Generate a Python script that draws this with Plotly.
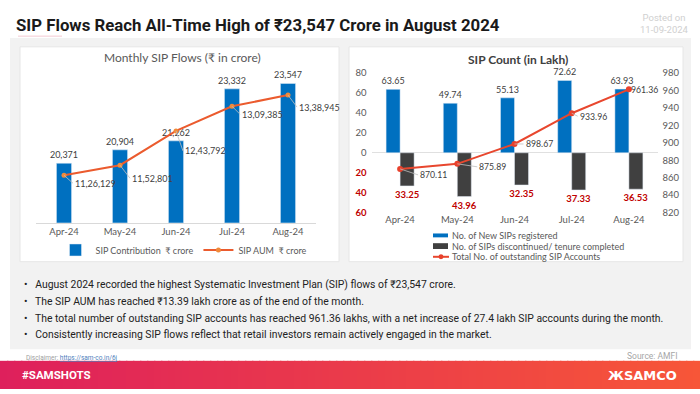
import plotly.graph_objects as go

# ---------------- data ----------------
months = ["Apr-24", "May-24", "Jun-24", "Jul-24", "Aug-24"]
sip_contribution = [20371, 20904, 21262, 23332, 23547]          # ₹ crore
sip_aum = [1126129, 1152801, 1243792, 1309385, 1338945]         # ₹ crore
new_sips = [63.65, 49.74, 55.13, 72.62, 63.93]                   # lakh
discontinued = [33.25, 43.96, 32.35, 37.33, 36.53]               # lakh
outstanding = [870.11, 875.89, 898.67, 933.96, 961.36]           # lakh
left_ticks = [-60, -40, -20, 0, 20, 40, 60, 80]
right_ticks = [820, 840, 860, 880, 900, 920, 940, 960, 980]

bullets = [
    "August 2024 recorded the highest Systematic Investment Plan (SIP) flows of ₹23,547 crore.",
    "The SIP AUM has reached ₹13.39 lakh crore as of the end of the month.",
    "The total number of outstanding SIP accounts has reached 961.36 lakhs, with a net increase of 27.4 lakh SIP accounts during the month.",
    "Consistently increasing SIP flows reflect that retail investors remain actively engaged in the market.",
]

W, H = 700, 394
CH = "Lato, 'Open Sans', sans-serif"
NARROW = "Roboto, 'Liberation Sans', sans-serif"
GREY = "#595959"
BLUE = "#0070C0"
DARK = "#404040"
ORANGE = "#EB5B2E"
RED_LINE = "#E8472E"


def px(x):
    return x / W


def py(y):
    return 1 - y / H


def inr(n):
    s = str(int(n))
    last3, rest = s[-3:], s[:-3]
    groups = []
    while len(rest) > 2:
        groups.insert(0, rest[-2:])
        rest = rest[:-2]
    if rest:
        groups.insert(0, rest)
    return ",".join(groups + [last3])


fig = go.Figure()

# ---------- left chart ----------
fig.add_trace(go.Bar(
    x=months, y=sip_contribution, name="SIP Contribution  ₹ crore",
    marker_color=BLUE, width=0.27,
    text=[f"{v:,}" for v in sip_contribution], textposition="outside",
    constraintext="none",
    textfont=dict(size=9, color=DARK, family=CH), cliponaxis=False,
    xaxis="x", yaxis="y", legend="legend"))
fig.add_trace(go.Scatter(
    x=months, y=sip_aum, name="SIP AUM  ₹ crore", mode="lines+markers",
    line=dict(color=ORANGE, width=2), marker=dict(size=5, color="#F08A3A"),
    xaxis="x", yaxis="y2", legend="legend"))

# ---------- right chart ----------
fig.add_trace(go.Bar(
    x=months, y=new_sips, name="No. of New SIPs registered",
    marker_color=BLUE, width=0.245, offset=-0.245,
    text=[f"{v:.2f}" for v in new_sips], textposition="outside",
    constraintext="none",
    textfont=dict(size=9, color=DARK, family=CH), cliponaxis=False,
    xaxis="x2", yaxis="y3", showlegend=False))
fig.add_trace(go.Bar(
    x=months, y=[-v for v in discontinued],
    name="No. of SIPs discontinued/ tenure completed",
    marker_color=DARK, width=0.245, offset=0,
    text=[f"<b>{v:.2f}</b>" for v in discontinued], textposition="outside",
    constraintext="none",
    textfont=dict(size=9.5, color="#C00000", family=CH), cliponaxis=False,
    xaxis="x2", yaxis="y3", showlegend=False))
fig.add_trace(go.Scatter(
    x=months, y=outstanding, name="Total No. of outstanding SIP Accounts",
    mode="lines+markers", line=dict(color=RED_LINE, width=2),
    marker=dict(size=6, color="#E8412C"),
    xaxis="x2", yaxis="y4", showlegend=False))

annotations = []
# line labels, left chart
left_off = [(9, 8), (10, 13), (7, 20), (8, 8), (9, 12)]
for m, v, (dx, dy) in zip(months, sip_aum, left_off):
    annotations.append(dict(x=m, y=v, xref="x", yref="y2", text=inr(v),
                            showarrow=True, arrowhead=0, arrowwidth=0.8,
                            arrowcolor="#BFBFBF", ax=dx, ay=dy,
                            xanchor="left", yanchor="middle",
                            font=dict(size=9, color=DARK, family=CH)))
# line labels, right chart
right_off = [(18, 6), (20, 3), (9, 0), (6, 3), (0, 0)]
for m, v, (dx, dy) in zip(months, outstanding, right_off):
    annotations.append(dict(x=m, y=v, xref="x2", yref="y4", text=f"{v:.2f}",
                            showarrow=True, arrowhead=0, arrowwidth=0.8,
                            arrowcolor="#BFBFBF", ax=dx, ay=dy,
                            xanchor="left", yanchor="middle",
                            font=dict(size=8.7, color=DARK, family=CH)))

# chart titles
annotations.append(dict(x=px(182), y=py(53), xref="paper", yref="paper",
                        xanchor="center", yanchor="middle",
                        text="Monthly SIP Flows (₹ in crore)", showarrow=False,
                        font=dict(size=12, color=GREY, family=CH)))
annotations.append(dict(x=px(518), y=py(55), xref="paper", yref="paper",
                        xanchor="center", yanchor="middle",
                        text="<b>SIP Count (in Lakh)</b>", showarrow=False,
                        font=dict(size=12, color=DARK, family=CH)))

# manual legend for right chart
leg_names = ["No. of New SIPs registered",
             "No. of SIPs discontinued/ tenure completed",
             "Total No. of outstanding SIP Accounts"]
shapes = []
for name, yy in zip(leg_names, [236, 247, 258]):
    annotations.append(dict(x=px(450), y=py(yy), xref="paper", yref="paper",
                            xanchor="left", yanchor="middle", showarrow=False,
                            text=name, font=dict(size=9, color=GREY, family=CH)))

# header
annotations.append(dict(x=px(14), y=py(20), xref="paper", yref="paper",
                        xanchor="left", yanchor="middle", showarrow=False,
                        text="<b>SIP Flows Reach All-Time High of ₹23,547 Crore in August 2024</b>",
                        font=dict(size=16.8, color="#1A1A1A", family=NARROW)))
annotations.append(dict(x=px(691), y=py(18), xref="paper", yref="paper",
                        xanchor="right", yanchor="middle", showarrow=False,
                        align="center",
                        text="Posted on<br>11-09-2024",
                        font=dict(size=9.5, color="#D0D0D0", family=NARROW)))

# bullets
for b, yy in zip(bullets, [286, 304, 321, 338]):
    annotations.append(dict(x=px(22), y=py(yy), xref="paper", yref="paper",
                            xanchor="left", yanchor="middle", showarrow=False,
                            text="•   " + b,
                            font=dict(size=10.4, color="#222222", family=NARROW)))

annotations.append(dict(x=px(24), y=py(362), xref="paper", yref="paper",
                        xanchor="left", yanchor="middle", showarrow=False,
                        text="Disclaimer: <span style='color:#4F81BD'><u>https://sam-co.in/6j</u></span>",
                        font=dict(size=6.5, color="#A0A0A0", family=NARROW)))
annotations.append(dict(x=px(679), y=py(360), xref="paper", yref="paper",
                        xanchor="right", yanchor="middle", showarrow=False,
                        text="Source: AMFI",
                        font=dict(size=8.5, color="#A6A6A6", family=NARROW)))
annotations.append(dict(x=px(20), y=py(380), xref="paper", yref="paper",
                        xanchor="left", yanchor="middle", showarrow=False,
                        text="<b>#SAMSHOTS</b>",
                        font=dict(size=11.5, color="white", family=NARROW)))
annotations.append(dict(x=px(679), y=py(380), xref="paper", yref="paper",
                        xanchor="right", yanchor="middle", showarrow=False,
                        text="<b>ЖSAMCO</b>",
                        font=dict(size=13, color="white", family="'DejaVu Sans', sans-serif")))

# ---------- background shapes ----------
shapes.append(dict(type="rect", xref="paper", yref="paper", layer="below",
                   x0=px(10), x1=px(691), y0=py(353), y1=py(33),
                   fillcolor="#F2F2F2", line_width=0))
for x0, x1 in [(20, 339), (349, 683)]:
    shapes.append(dict(type="rect", xref="paper", yref="paper", layer="below",
                       x0=px(x0), x1=px(x1), y0=py(263), y1=py(42),
                       fillcolor="white", line=dict(color="#E6E6E6", width=1)))
shapes.append(dict(type="line", xref="paper", yref="paper", layer="below",
                   x0=px(18), x1=px(62), y0=py(31), y1=py(31),
                   line=dict(color="#F3C9D2", width=1)))
# legend keys (right chart)
shapes.append(dict(type="rect", xref="paper", yref="paper",
                   x0=px(433), x1=px(448), y0=py(238), y1=py(234),
                   fillcolor=BLUE, line_width=0))
shapes.append(dict(type="rect", xref="paper", yref="paper",
                   x0=px(433), x1=px(448), y0=py(250), y1=py(244),
                   fillcolor=DARK, line_width=0))
shapes.append(dict(type="line", xref="paper", yref="paper",
                   x0=px(433), x1=px(449), y0=py(258), y1=py(258),
                   line=dict(color=RED_LINE, width=2)))
shapes.append(dict(type="circle", xref="paper", yref="paper",
                   x0=px(438.5), x1=px(443.5), y0=py(260.5), y1=py(255.5),
                   fillcolor="#E8412C", line_width=0))
# gradient banner
c0, c1 = (222, 32, 92), (247, 86, 56)
n = 100
for i in range(n):
    t = i / (n - 1)
    col = "rgb(%d,%d,%d)" % tuple(round(a + (b - a) * t) for a, b in zip(c0, c1))
    shapes.append(dict(type="rect", xref="paper", yref="paper", layer="below",
                       x0=i / n, x1=(i + 1) / n + 0.002, y0=0, y1=py(365),
                       fillcolor=col, line_width=0))

tick_font = dict(size=9.5, color=GREY, family=CH)
left_ticktext = [f"<span style='color:#C00000'><b>{abs(v)}</b></span>" if v < 0 else str(v)
                 for v in left_ticks]

fig.update_layout(
    width=W, height=H, margin=dict(l=0, r=0, t=0, b=0),
    paper_bgcolor="white", plot_bgcolor="rgba(0,0,0,0)",
    barmode="overlay", showlegend=True,
    xaxis=dict(domain=[px(36), px(316)], anchor="y", range=[-0.5, 4.5],
               showgrid=False, showline=True, linecolor="#D9D9D9", linewidth=1,
               ticks="", tickfont=tick_font),
    yaxis=dict(domain=[py(223), py(68)], range=[18000, 24000], visible=False),
    yaxis2=dict(overlaying="y", anchor="x", range=[1000000, 1400000], visible=False),
    xaxis2=dict(domain=[px(371.5), px(657.5)], anchor="y3", range=[-0.5, 4.5],
                showgrid=False, showline=False, ticks="", tickfont=tick_font),
    yaxis3=dict(domain=[py(212.5), py(69)], range=[-60, 80], anchor="x2",
                tickvals=left_ticks, ticktext=left_ticktext, showgrid=False,
                zeroline=True, zerolinecolor="#E0E0E0", zerolinewidth=1,
                tickfont=tick_font, ticklabelstandoff=4),
    yaxis4=dict(overlaying="y3", anchor="x2", side="right", range=[820, 980],
                tickvals=right_ticks, showgrid=False, zeroline=False,
                tickfont=tick_font, ticklabelstandoff=4),
    legend=dict(orientation="h", x=px(184), xanchor="center", y=py(251),
                yanchor="middle", font=dict(size=9, color=GREY, family=CH),
                bgcolor="rgba(0,0,0,0)", itemwidth=30),
    annotations=annotations, shapes=shapes,
)

fig.write_html("out.html", config={"displayModeBar": False, "staticPlot": True},
               post_script="document.body.style.margin='0';document.body.style.overflow='hidden';")
